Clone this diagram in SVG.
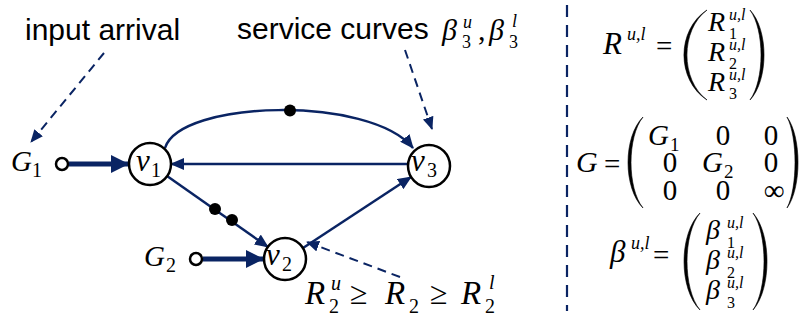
<svg xmlns="http://www.w3.org/2000/svg" width="803" height="320" viewBox="0 0 803 320">
  <style>
    .node { fill: #ffffff; stroke: #000000; stroke-width: 2.5; }
    .src { fill: #ffffff; stroke: #000000; stroke-width: 2.5; }
    .edge { fill: none; stroke: #0a2463; stroke-width: 2.5; }
    .thick { fill: none; stroke: #0a2463; stroke-width: 5; }
    .dash { fill: none; stroke: #0a2463; stroke-width: 2; stroke-dasharray: 9 6; }
    .sep { fill: none; stroke: #0a2463; stroke-width: 2.2; stroke-dasharray: 12 8; }
    .dot { fill: #000000; }
    .lbl { font-family: "Liberation Sans", Arial, sans-serif; font-size: 30px; fill: #000000; }
    .mi { font-family: "Liberation Serif", "DejaVu Serif", serif; font-style: italic; fill: #000000; }
    .mn { font-family: "Liberation Serif", "DejaVu Serif", serif; fill: #000000; }
    .paren { fill: #000000; stroke: #000000; stroke-width: 0.6; }
  </style>
  <defs>
    <marker id="ah" markerUnits="userSpaceOnUse" markerWidth="14" markerHeight="12" refX="13" refY="6" orient="auto">
      <path d="M0,0 L14,6 L0,12 Z" fill="#0a2463"/>
    </marker>
    <marker id="ahThick" markerUnits="userSpaceOnUse" markerWidth="18" markerHeight="18" refX="17" refY="9" orient="auto">
      <path d="M0,0 L18,9 L0,18 Z" fill="#0a2463"/>
    </marker>
    <marker id="ahDash" markerUnits="userSpaceOnUse" markerWidth="13" markerHeight="11" refX="12" refY="5.5" orient="auto">
      <path d="M0,0 L13,5.5 L0,11 Z" fill="#0a2463"/>
    </marker>
  </defs>

  <!-- connectors -->
  <g id="connectors">
    <line class="thick" x1="69" y1="164" x2="128" y2="164" marker-end="url(#ahThick)"/>
    <line class="thick" x1="203" y1="259" x2="263" y2="259" marker-end="url(#ahThick)"/>
    <line class="edge" x1="408" y1="164" x2="171" y2="164" marker-end="url(#ah)"/>
    <line class="edge" x1="167" y1="176" x2="268" y2="247" marker-end="url(#ah)"/>
    <line class="edge" x1="303" y1="248" x2="411" y2="177" marker-end="url(#ah)"/>
    <path class="edge" d="M165,148 C180,100 370,95 413,148" marker-end="url(#ah)"/>
    <circle class="dot" cx="290" cy="110.5" r="6"/>
    <circle class="dot" cx="215" cy="209" r="6"/>
    <circle class="dot" cx="232" cy="220" r="6"/>
    <line class="dash" x1="104" y1="53" x2="31" y2="142" marker-end="url(#ahDash)"/>
    <line class="dash" x1="405" y1="50" x2="432" y2="129" marker-end="url(#ahDash)"/>
    <line class="dash" x1="400" y1="277" x2="307" y2="242" marker-end="url(#ahDash)"/>
  </g>

  <!-- nodes -->
  <g id="G1">
    <circle class="src" cx="62" cy="164" r="6"/>
    <text class="mi" x="11" y="171" font-size="29">G</text>
    <text class="mn" x="32" y="177" font-size="20">1</text>
  </g>
  <g id="G2">
    <circle class="src" cx="196" cy="259" r="6"/>
    <text class="mi" x="144" y="266" font-size="29">G</text>
    <text class="mn" x="166" y="272" font-size="20">2</text>
  </g>
  <g id="v1">
    <circle class="node" cx="150" cy="164" r="21"/>
    <text class="mi" x="136" y="171" font-size="31">v</text>
    <text class="mn" x="151" y="177" font-size="20">1</text>
  </g>
  <g id="v2">
    <circle class="node" cx="285" cy="259" r="21"/>
    <text class="mi" x="266" y="265" font-size="31">v</text>
    <text class="mn" x="282" y="271" font-size="20">2</text>
  </g>
  <g id="v3">
    <circle class="node" cx="429" cy="166" r="21"/>
    <text class="mi" x="411" y="171" font-size="31">v</text>
    <text class="mn" x="427" y="177" font-size="20">3</text>
  </g>

  <!-- annotations -->
  <g id="labels">
    <text class="lbl" x="25" y="40">input arrival</text>
    <text class="lbl" x="237" y="39">service curves</text>
    <text class="mi" x="442" y="40" font-size="30">β</text>
    <text class="mi" x="463" y="28" font-size="18">u</text>
    <text class="mn" x="462" y="48" font-size="18">3</text>
    <text class="mn" x="478" y="40" font-size="30">,</text>
    <text class="mi" x="489" y="40" font-size="30">β</text>
    <text class="mi" x="512" y="27" font-size="18">l</text>
    <text class="mn" x="509" y="48" font-size="18">3</text>

    <text class="mi" x="305" y="304" font-size="33">R</text>
    <text class="mi" x="331" y="290" font-size="20">u</text>
    <text class="mn" x="329" y="313" font-size="20">2</text>
    <text class="mn" x="350" y="304" font-size="32">≥</text>
    <text class="mi" x="385" y="304" font-size="33">R</text>
    <text class="mn" x="409" y="313" font-size="20">2</text>
    <text class="mn" x="430" y="304" font-size="32">≥</text>
    <text class="mi" x="461" y="304" font-size="33">R</text>
    <text class="mi" x="489" y="289" font-size="20">l</text>
    <text class="mn" x="485" y="313" font-size="20">2</text>
  </g>

  <line id="separator" class="sep" x1="567" y1="5" x2="567" y2="311"/>

  <!-- equations -->
  <g id="eqR">
    <text class="mi" x="603" y="54" font-size="31">R</text>
    <text class="mi" x="627" y="40" font-size="18">u,l</text>
    <text class="mn" x="656" y="56" font-size="29">=</text>
    <path class="paren" d="M707,10 C676.3,30 676.3,80 707,100 C680.3,80 680.3,30 707,10 Z"/>
    <text class="mi" x="708" y="31" font-size="28">R</text>
    <text class="mi" x="729" y="20" font-size="16">u,l</text>
    <text class="mn" x="729" y="39" font-size="16">1</text>
    <text class="mi" x="708" y="61" font-size="28">R</text>
    <text class="mi" x="729" y="50" font-size="16">u,l</text>
    <text class="mn" x="729" y="69" font-size="16">2</text>
    <text class="mi" x="708" y="91" font-size="28">R</text>
    <text class="mi" x="729" y="80" font-size="16">u,l</text>
    <text class="mn" x="729" y="99" font-size="16">3</text>
    <path class="paren" d="M750,10 C768.7,30 768.7,80 750,100 C764.7,80 764.7,30 750,10 Z"/>
  </g>

  <g id="eqG">
    <text class="mi" x="576" y="172" font-size="30">G</text>
    <text class="mn" x="604" y="174" font-size="29">=</text>
    <path class="paren" d="M643,117 C623,137 623,188 643,208 C627,188 627,137 643,117 Z"/>
    <text class="mi" x="648" y="145" font-size="29">G</text>
    <text class="mn" x="670" y="151" font-size="19">1</text>
    <text class="mn" x="723" y="145" font-size="29" text-anchor="middle">0</text>
    <text class="mn" x="771" y="145" font-size="29" text-anchor="middle">0</text>
    <text class="mn" x="670" y="172" font-size="29" text-anchor="middle">0</text>
    <text class="mi" x="702" y="172" font-size="29">G</text>
    <text class="mn" x="724" y="178" font-size="19">2</text>
    <text class="mn" x="771" y="172" font-size="29" text-anchor="middle">0</text>
    <text class="mn" x="670" y="200" font-size="29" text-anchor="middle">0</text>
    <text class="mn" x="723" y="200" font-size="29" text-anchor="middle">0</text>
    <text class="mn" x="774" y="200" font-size="29" text-anchor="middle">∞</text>
    <path class="paren" d="M787,117 C801.7,137 801.7,188 787,208 C797.7,188 797.7,137 787,117 Z"/>
  </g>

  <g id="eqBeta">
    <text class="mi" x="610" y="262" font-size="31">β</text>
    <text class="mi" x="631" y="249" font-size="18">u,l</text>
    <text class="mn" x="653" y="265" font-size="29">=</text>
    <path class="paren" d="M700,213 C678.7,234 678.7,289 700,310 C682.7,289 682.7,234 700,213 Z"/>
    <text class="mi" x="706" y="239" font-size="28">β</text>
    <text class="mi" x="727" y="228" font-size="16">u,l</text>
    <text class="mn" x="727" y="248" font-size="16">1</text>
    <text class="mi" x="706" y="269" font-size="28">β</text>
    <text class="mi" x="727" y="258" font-size="16">u,l</text>
    <text class="mn" x="727" y="278" font-size="16">2</text>
    <text class="mi" x="706" y="299" font-size="28">β</text>
    <text class="mi" x="727" y="288" font-size="16">u,l</text>
    <text class="mn" x="727" y="308" font-size="16">3</text>
    <path class="paren" d="M753,213 C771.7,234 771.7,289 753,310 C767.7,289 767.7,234 753,213 Z"/>
  </g>
</svg>
